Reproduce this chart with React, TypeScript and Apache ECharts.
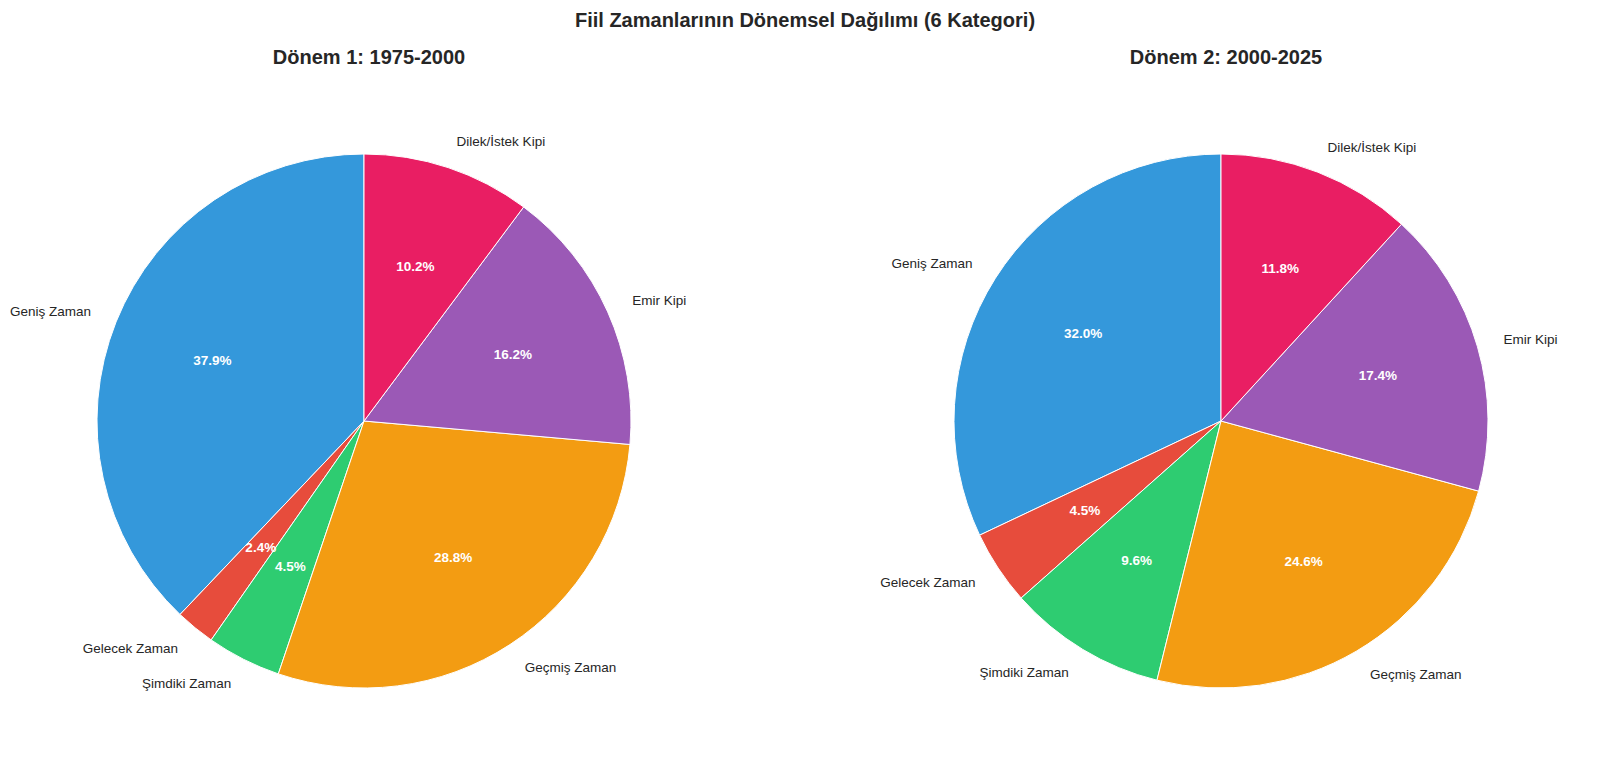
import React, { useEffect, useRef } from "react";
import * as echarts from "echarts";

const categories = [
  "Geniş Zaman",
  "Gelecek Zaman",
  "Şimdiki Zaman",
  "Geçmiş Zaman",
  "Emir Kipi",
  "Dilek/İstek Kipi",
];
const colors = ["#3498db", "#e74c3c", "#2ecc71", "#f39c12", "#9b59b6", "#e91e63"];
const period1Values = [37.9, 2.4, 4.5, 28.8, 16.2, 10.2];
const period2Values = [32.0, 4.5, 9.6, 24.6, 17.4, 11.8];
const periodTitles = ["Dönem 1: 1975-2000", "Dönem 2: 2000-2025"];
const mainTitle = "Fiil Zamanlarının Dönemsel Dağılımı (6 Kategori)";

const FONT = "'Liberation Sans', Arial, Helvetica, sans-serif";
const R = 267;
const centers = [
  [364, 421],
  [1221, 421],
];

const makeData = (values: number[]) =>
  values.map((v, i) => ({ name: categories[i], value: v, itemStyle: { color: colors[i] } }));

const App: React.FC = () => {
  const chartRef = useRef<HTMLDivElement>(null);

  useEffect(() => {
    document.body.style.margin = "0";
    if (!chartRef.current) return;
    const chart = echarts.init(chartRef.current, null, { renderer: "svg" });

    const series: any[] = [];
    [period1Values, period2Values].forEach((values, k) => {
      // sectors with outer category labels
      series.push({
        type: "pie",
        center: centers[k],
        radius: [0, R],
        startAngle: 90,
        clockwise: false,
        avoidLabelOverlap: false,
        silent: true,
        data: makeData(values),
        itemStyle: { borderColor: "#ffffff", borderWidth: 1 },
        label: {
          show: true,
          position: "outside",
          formatter: "{b}",
          color: "#262626",
          fontFamily: FONT,
          fontSize: 13.5,
          distanceToLabelLine: 0,
        },
        labelLine: { show: false, length: 27, length2: 0 },
      });
      // transparent overlay for percentage labels at 0.6 r
      series.push({
        type: "pie",
        center: centers[k],
        radius: [0, R * 1.2],
        startAngle: 90,
        clockwise: false,
        avoidLabelOverlap: false,
        silent: true,
        data: makeData(values).map((d) => ({ ...d, itemStyle: { color: "transparent" } })),
        itemStyle: { color: "transparent", borderWidth: 0 },
        label: {
          show: true,
          position: "inside",
          formatter: (p: any) => `${Number(p.value).toFixed(1)}%`,
          color: "#ffffff",
          fontFamily: FONT,
          fontSize: 13.5,
          fontWeight: "bold",
        },
        labelLine: { show: false },
      });
    });

    const option: echarts.EChartsOption = {
      animation: false,
      backgroundColor: "#ffffff",
      title: [
        {
          text: mainTitle,
          left: 800,
          top: 5,
          textAlign: "center",
          textStyle: { fontFamily: FONT, fontSize: 20, fontWeight: "bold", color: "#262626" },
        },
        ...periodTitles.map((t, k) => ({
          text: t,
          left: centers[k][0],
          top: 42,
          textAlign: "center" as const,
          textStyle: { fontFamily: FONT, fontSize: 20, fontWeight: "bold" as const, color: "#262626" },
        })),
      ],
      series,
    };

    chart.setOption(option);
    return () => {
      chart.dispose();
    };
  }, []);

  return <div ref={chartRef} style={{ width: "1600px", height: "782px" }} />;
};

export default App;
